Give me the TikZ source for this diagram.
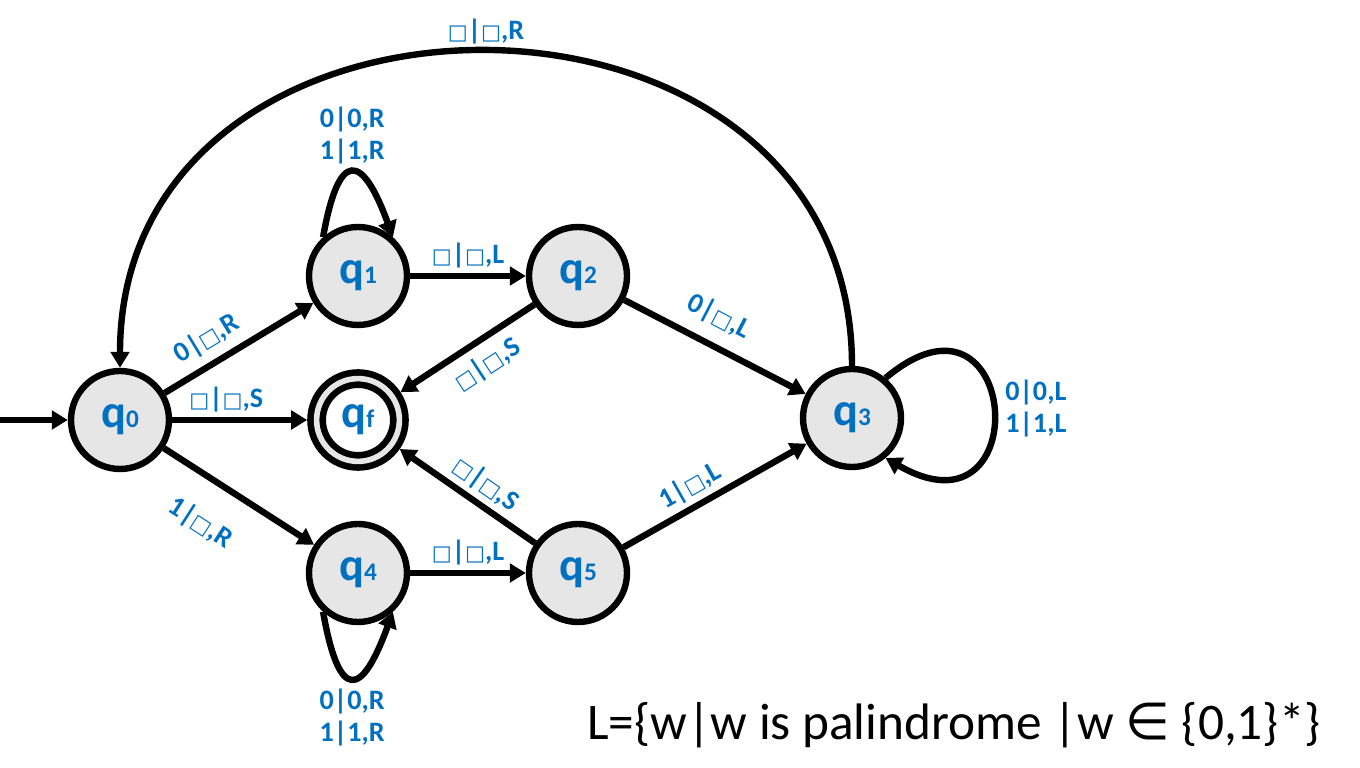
\documentclass[tikz,border=0pt]{standalone}
\usepackage{fontspec}
\setmainfont{Carlito}
\newfontfamily\symfont{DejaVu Sans}
\usetikzlibrary{arrows.meta}
\definecolor{stblue}{HTML}{0070C0}
\definecolor{stgray}{HTML}{E6E6E6}
\newcommand{\bx}{{\symfont\mdseries\fontsize{15}{15}\selectfont □}}
\newcommand{\qs}[1]{{\fontsize{33}{33}\selectfont q}{\fontsize{18}{18}\selectfont #1}}
\tikzstyle{etat} = [circle, draw=black, fill=stgray, line width=0.16cm, minimum size=2.45cm, inner sep=0pt, text=stblue, font=\bfseries]
\tikzstyle{final} = [circle, draw=black, fill=white, line width=0.165cm, double=stgray, double distance=0.14cm, minimum size=2.07cm, inner sep=0pt, outer sep=0.235cm, text=stblue, font=\bfseries]
\tikzstyle{arr} = [line width=0.16cm, >={Triangle[length=0.4cm,width=0.46cm]}, ->]
\tikzstyle{lbl} = [text=stblue, font=\bfseries\fontsize{20}{23}\selectfont, align=center]

\begin{document}
\begin{tikzpicture}

            \useasboundingbox (0,0) rectangle (34,19.2);

            \node (q0) [etat] at (3,8.7) {\qs{0}};
            \node (q1) [etat] at (8.95,12.3) {\qs{1}};
            \node (q2) [etat] at (14.45,12.3) {\qs{2}};
            \node (qf) [final] at (8.95,8.7) {\qs{f}};
            \node (q3) [etat] at (21.3,8.75) {\qs{3}};
            \node (q4) [etat] at (8.95,4.875) {\qs{4}};
            \node (q5) [etat] at (14.45,4.875) {\qs{5}};

            \coordinate (start) at (0,8.7);
            \draw[arr] (start) -- (q0);

            %% upper branch
            \draw[arr] (q0) -- node[lbl, sloped, above=3pt, pos=0.37] {0|\bx,R} (q1);
            \draw[arr] (q1.132) .. controls +(80:2.25) and +(110:2.25) .. node[lbl, above] {0|0,R\\1|1,R} (q1.48);
            \draw[arr] (q1) -- node[lbl, above] {\bx|\bx,L} (q2);
            \draw[arr] (q2) -- node[lbl, sloped, above=6pt, pos=0.45] {0|\bx,L} (q3);
            \draw[arr, <-] (qf) -- node[lbl, sloped, below=3pt, pos=0.55] {\bx|\bx,S} (q2);

            %% middle
            \draw[arr] (q0) -- node[lbl, above, pos=0.4] {\bx|\bx,S} (qf);

            %% lower branch
            \draw[arr] (q0) -- node[lbl, sloped, below=16pt, pos=0.4] {1|\bx,R} (q4);
            \draw[arr] (q4.228) .. controls +(-80:2.3) and +(-110:2.3) .. node[lbl, below=2pt] {0|0,R\\1|1,R} (q4.-48);
            \draw[arr] (q4) -- node[lbl, above] {\bx|\bx,L} (q5);
            \draw[arr] (q5) -- node[lbl, sloped, above, pos=0.42] {1|\bx,L} (q3);
            \draw[arr, <-] (qf) -- node[lbl, sloped, above, pos=0.55] {\bx|\bx,S} (q5);

            %% q3
            \draw[arr] (q3.50) .. controls +(40:4.4) and +(-30:4.4) .. node[lbl, right=3pt] {0|0,L\\1|1,L} (q3.-50);
            \draw[arr] (q3.north) .. controls +(90:10.5) and +(90:10.5) .. node[lbl, above] {\bx|\bx,R} (q0.north);

            \node (lang) [anchor=base, font=\fontsize{36.5}{42}\selectfont] at (23.85,0.7) {L=\{w|w is palindrome |w {\symfont∈} \{0,1\}*\}};

        \end{tikzpicture}
\end{document}
